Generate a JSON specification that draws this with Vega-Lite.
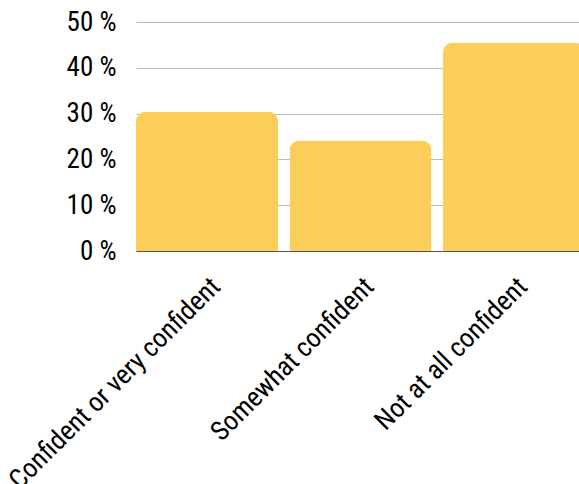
{
  "$schema": "https://vega.github.io/schema/vega-lite/v6.json",
  "autosize": {"type": "none"},
  "padding": {"left": 136, "top": 22, "right": 0, "bottom": 233},
  "width": 449,
  "height": 229,
  "background": "white",
  "data": {"values": [
    {"category": "Confident or very confident", "pct": 30.4},
    {"category": "Somewhat confident", "pct": 24.1},
    {"category": "Not at all confident", "pct": 45.5}
  ]},
  "mark": {"type": "bar", "color": "#FBCE5A", "cornerRadiusTopLeft": 10, "cornerRadiusTopRight": 10},
  "encoding": {
    "x": {
      "field": "category", "type": "nominal", "sort": null,
      "scale": {"paddingInner": 0.075, "paddingOuter": 0},
      "axis": {"title": null, "labelAngle": -45, "labelFontSize": 27, "labelFont": "Roboto Condensed, Liberation Sans Narrow, DejaVu Sans Condensed, Roboto", "labelColor": "#000", "ticks": false, "domain": true, "domainColor": "#555", "labelPadding": 22, "labelLimit": 500}
    },
    "y": {
      "field": "pct", "type": "quantitative",
      "scale": {"domain": [0, 50], "nice": false},
      "axis": {"title": null, "values": [0, 10, 20, 30, 40, 50], "labelExpr": "datum.value + ' %'", "labelFontSize": 27, "labelFont": "Roboto Condensed, Liberation Sans Narrow, DejaVu Sans Condensed, Roboto", "labelColor": "#000", "ticks": false, "domain": false, "gridColor": "#bbb", "labelPadding": 20}
    }
  },
  "config": {"view": {"stroke": null}}
}
